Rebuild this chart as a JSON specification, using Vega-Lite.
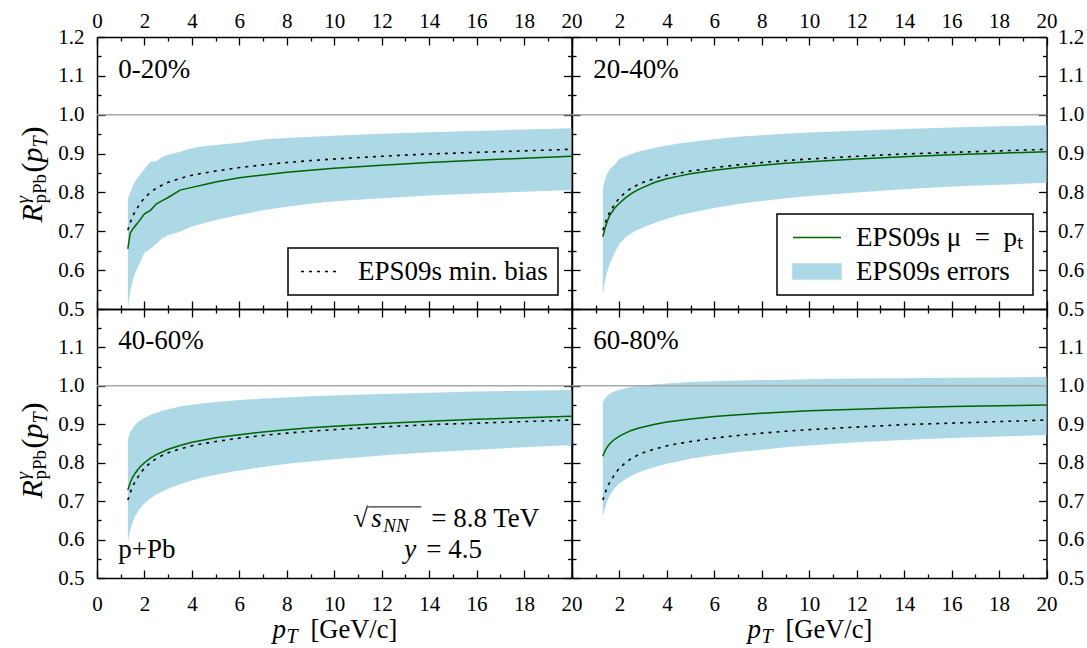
{
  "$schema": "https://vega.github.io/schema/vega-lite/v6.json",
  "background": "white",
  "padding": {"left": 13, "top": 10, "right": 5, "bottom": 5},
  "columns": 2,
  "spacing": 0,
  "bounds": "flush",
  "resolve": {"scale": {"color": "independent"}, "legend": {"color": "independent"}},
  "config": {
    "view": {"stroke": null},
    "axis": {"grid": false, "labelFont": "Liberation Serif, Times New Roman, serif", "labelFontSize": 21, "labelColor": "black", "labelFlush": false, "labelOverlap": false, "labelBound": false, "tickColor": "black", "tickWidth": 1.3, "domainColor": "black", "domainWidth": 1.5, "titleFont": "Liberation Serif, Times New Roman, serif", "titleColor": "black", "titleFontWeight": "normal", "zindex": 1},
    "legend": {"labelFont": "Liberation Serif, Times New Roman, serif", "labelFontSize": 27, "labelColor": "black", "labelLimit": 500, "strokeColor": "black", "fillColor": "white", "padding": 10, "orient": "bottom-right", "offset": 14},
    "text": {"font": "Liberation Serif, Times New Roman, serif", "color": "black"}
  },
  "datasets": {
    "tl": [
      {"pt":1.3,"lo":0.500,"hi":0.783,"mu":0.655,"mb":0.703},
      {"pt":1.4,"lo":0.545,"hi":0.800,"mu":0.695,"mb":0.722},
      {"pt":1.5,"lo":0.572,"hi":0.815,"mu":0.705,"mb":0.738},
      {"pt":1.6,"lo":0.592,"hi":0.828,"mu":0.713,"mb":0.750},
      {"pt":1.8,"lo":0.618,"hi":0.845,"mu":0.728,"mb":0.770},
      {"pt":2.0,"lo":0.645,"hi":0.860,"mu":0.745,"mb":0.786},
      {"pt":2.25,"lo":0.655,"hi":0.879,"mu":0.754,"mb":0.800},
      {"pt":2.5,"lo":0.667,"hi":0.880,"mu":0.770,"mb":0.811},
      {"pt":2.75,"lo":0.682,"hi":0.892,"mu":0.779,"mb":0.819},
      {"pt":3,"lo":0.690,"hi":0.897,"mu":0.787,"mb":0.826},
      {"pt":3.5,"lo":0.699,"hi":0.905,"mu":0.806,"mb":0.836},
      {"pt":4,"lo":0.712,"hi":0.914,"mu":0.813,"mb":0.844},
      {"pt":4.5,"lo":0.721,"hi":0.919,"mu":0.820,"mb":0.850},
      {"pt":5,"lo":0.729,"hi":0.922,"mu":0.827,"mb":0.855},
      {"pt":6,"lo":0.742,"hi":0.928,"mu":0.838,"mb":0.864},
      {"pt":7,"lo":0.754,"hi":0.936,"mu":0.845,"mb":0.871},
      {"pt":8,"lo":0.763,"hi":0.940,"mu":0.852,"mb":0.877},
      {"pt":9,"lo":0.771,"hi":0.943,"mu":0.857,"mb":0.882},
      {"pt":10,"lo":0.777,"hi":0.946,"mu":0.862,"mb":0.886},
      {"pt":12,"lo":0.785,"hi":0.951,"mu":0.870,"mb":0.893},
      {"pt":14,"lo":0.792,"hi":0.955,"mu":0.877,"mb":0.899},
      {"pt":16,"lo":0.797,"hi":0.958,"mu":0.883,"mb":0.903},
      {"pt":18,"lo":0.802,"hi":0.962,"mu":0.888,"mb":0.907},
      {"pt":20,"lo":0.806,"hi":0.965,"mu":0.893,"mb":0.911}
    ],
    "tr": [
      {"pt":1.3,"lo":0.535,"hi":0.810,"mu":0.686,"mb":0.703},
      {"pt":1.4,"lo":0.575,"hi":0.835,"mu":0.710,"mb":0.722},
      {"pt":1.5,"lo":0.600,"hi":0.850,"mu":0.728,"mb":0.738},
      {"pt":1.6,"lo":0.618,"hi":0.860,"mu":0.742,"mb":0.750},
      {"pt":1.8,"lo":0.645,"hi":0.872,"mu":0.760,"mb":0.770},
      {"pt":2.0,"lo":0.668,"hi":0.886,"mu":0.772,"mb":0.786},
      {"pt":2.25,"lo":0.684,"hi":0.893,"mu":0.786,"mb":0.800},
      {"pt":2.5,"lo":0.695,"hi":0.899,"mu":0.797,"mb":0.811},
      {"pt":2.75,"lo":0.703,"hi":0.904,"mu":0.806,"mb":0.819},
      {"pt":3,"lo":0.710,"hi":0.908,"mu":0.813,"mb":0.826},
      {"pt":3.5,"lo":0.722,"hi":0.915,"mu":0.826,"mb":0.836},
      {"pt":4,"lo":0.732,"hi":0.921,"mu":0.835,"mb":0.844},
      {"pt":4.5,"lo":0.741,"hi":0.926,"mu":0.842,"mb":0.850},
      {"pt":5,"lo":0.748,"hi":0.930,"mu":0.848,"mb":0.855},
      {"pt":6,"lo":0.760,"hi":0.937,"mu":0.857,"mb":0.864},
      {"pt":7,"lo":0.770,"hi":0.943,"mu":0.864,"mb":0.871},
      {"pt":8,"lo":0.778,"hi":0.947,"mu":0.870,"mb":0.877},
      {"pt":9,"lo":0.785,"hi":0.951,"mu":0.875,"mb":0.882},
      {"pt":10,"lo":0.791,"hi":0.954,"mu":0.879,"mb":0.886},
      {"pt":12,"lo":0.800,"hi":0.959,"mu":0.886,"mb":0.893},
      {"pt":14,"lo":0.808,"hi":0.963,"mu":0.892,"mb":0.899},
      {"pt":16,"lo":0.815,"hi":0.967,"mu":0.897,"mb":0.903},
      {"pt":18,"lo":0.820,"hi":0.970,"mu":0.901,"mb":0.907},
      {"pt":20,"lo":0.825,"hi":0.973,"mu":0.905,"mb":0.911}
    ],
    "bl": [
      {"pt":1.3,"lo":0.595,"hi":0.860,"mu":0.729,"mb":0.703},
      {"pt":1.4,"lo":0.625,"hi":0.880,"mu":0.748,"mb":0.722},
      {"pt":1.5,"lo":0.645,"hi":0.890,"mu":0.762,"mb":0.738},
      {"pt":1.6,"lo":0.660,"hi":0.898,"mu":0.772,"mb":0.750},
      {"pt":1.8,"lo":0.680,"hi":0.909,"mu":0.788,"mb":0.770},
      {"pt":2.0,"lo":0.694,"hi":0.917,"mu":0.800,"mb":0.786},
      {"pt":2.25,"lo":0.707,"hi":0.924,"mu":0.812,"mb":0.800},
      {"pt":2.5,"lo":0.717,"hi":0.930,"mu":0.821,"mb":0.811},
      {"pt":2.75,"lo":0.725,"hi":0.935,"mu":0.828,"mb":0.819},
      {"pt":3,"lo":0.732,"hi":0.939,"mu":0.835,"mb":0.826},
      {"pt":3.5,"lo":0.744,"hi":0.946,"mu":0.845,"mb":0.836},
      {"pt":4,"lo":0.754,"hi":0.951,"mu":0.853,"mb":0.844},
      {"pt":4.5,"lo":0.762,"hi":0.955,"mu":0.859,"mb":0.850},
      {"pt":5,"lo":0.769,"hi":0.958,"mu":0.865,"mb":0.855},
      {"pt":6,"lo":0.780,"hi":0.963,"mu":0.873,"mb":0.864},
      {"pt":7,"lo":0.789,"hi":0.967,"mu":0.880,"mb":0.871},
      {"pt":8,"lo":0.797,"hi":0.970,"mu":0.886,"mb":0.877},
      {"pt":9,"lo":0.803,"hi":0.973,"mu":0.891,"mb":0.882},
      {"pt":10,"lo":0.809,"hi":0.975,"mu":0.895,"mb":0.886},
      {"pt":12,"lo":0.819,"hi":0.979,"mu":0.902,"mb":0.893},
      {"pt":14,"lo":0.827,"hi":0.982,"mu":0.908,"mb":0.899},
      {"pt":16,"lo":0.834,"hi":0.985,"mu":0.913,"mb":0.903},
      {"pt":18,"lo":0.840,"hi":0.987,"mu":0.917,"mb":0.907},
      {"pt":20,"lo":0.846,"hi":0.989,"mu":0.921,"mb":0.911}
    ],
    "br": [
      {"pt":1.3,"lo":0.660,"hi":0.958,"mu":0.817,"mb":0.703},
      {"pt":1.4,"lo":0.685,"hi":0.968,"mu":0.832,"mb":0.722},
      {"pt":1.5,"lo":0.703,"hi":0.975,"mu":0.842,"mb":0.738},
      {"pt":1.6,"lo":0.716,"hi":0.980,"mu":0.850,"mb":0.750},
      {"pt":1.8,"lo":0.734,"hi":0.986,"mu":0.861,"mb":0.770},
      {"pt":2.0,"lo":0.746,"hi":0.990,"mu":0.869,"mb":0.786},
      {"pt":2.25,"lo":0.757,"hi":0.994,"mu":0.877,"mb":0.800},
      {"pt":2.5,"lo":0.766,"hi":0.997,"mu":0.884,"mb":0.811},
      {"pt":2.75,"lo":0.773,"hi":0.999,"mu":0.889,"mb":0.819},
      {"pt":3,"lo":0.779,"hi":1.001,"mu":0.893,"mb":0.826},
      {"pt":3.5,"lo":0.789,"hi":1.004,"mu":0.900,"mb":0.836},
      {"pt":4,"lo":0.797,"hi":1.006,"mu":0.906,"mb":0.844},
      {"pt":4.5,"lo":0.804,"hi":1.008,"mu":0.910,"mb":0.850},
      {"pt":5,"lo":0.810,"hi":1.010,"mu":0.914,"mb":0.855},
      {"pt":6,"lo":0.820,"hi":1.012,"mu":0.920,"mb":0.864},
      {"pt":7,"lo":0.828,"hi":1.014,"mu":0.925,"mb":0.871},
      {"pt":8,"lo":0.834,"hi":1.015,"mu":0.929,"mb":0.877},
      {"pt":9,"lo":0.840,"hi":1.016,"mu":0.932,"mb":0.882},
      {"pt":10,"lo":0.845,"hi":1.017,"mu":0.935,"mb":0.886},
      {"pt":12,"lo":0.853,"hi":1.019,"mu":0.939,"mb":0.893},
      {"pt":14,"lo":0.859,"hi":1.020,"mu":0.943,"mb":0.899},
      {"pt":16,"lo":0.864,"hi":1.021,"mu":0.946,"mb":0.903},
      {"pt":18,"lo":0.868,"hi":1.022,"mu":0.948,"mb":0.907},
      {"pt":20,"lo":0.872,"hi":1.023,"mu":0.950,"mb":0.911}
    ]
  },
  "concat": [
    {
      "width": 474.5, "height": 272,
      "data": {"name": "tl"},
      "resolve": {"axis": {"x": "independent", "y": "independent"}},
      "layer": [
        {"mark": {"type": "area", "color": "#add8e6"},
         "encoding": {
           "x": {"field": "pt", "type": "quantitative", "scale": {"domain": [0, 20], "nice": false, "zero": false}, "axis": {"orient": "bottom", "values": [0,2,4,6,8,10,12,14,16,18,20], "tickSize": -8, "labels": false, "title": null}},
           "y": {"field": "lo", "type": "quantitative", "scale": {"domain": [0.5, 1.2], "nice": false, "zero": false}, "axis": {"orient": "left", "values": [0.5,0.6,0.7,0.8,0.9,1.0,1.1,1.2], "format": ".1f", "tickSize": -8, "labels": true, "labelPadding": 21, "title": null}},
           "y2": {"field": "hi"}}},
        {"data": {"values": [{}]}, "mark": {"type": "rule", "color": "#a8a8a8", "strokeWidth": 1.5},
         "encoding": {"y": {"datum": 1, "type": "quantitative", "axis": null}}},
        {"mark": {"type": "line", "color": "#006400", "strokeWidth": 1.5},
         "encoding": {
           "x": {"field": "pt", "type": "quantitative", "axis": {"orient": "bottom", "values": [1,3,5,7,9,11,13,15,17,19], "tickSize": -4, "labels": false, "domain": false, "title": null}},
           "y": {"field": "mu", "type": "quantitative", "axis": {"orient": "left", "values": [0.55,0.65,0.75,0.85,0.95,1.05,1.15], "tickSize": -4, "labels": false, "domain": false, "title": null}}}},
        {"mark": {"type": "line", "strokeDash": [3, 5], "strokeWidth": 1.6},
         "encoding": {
           "x": {"field": "pt", "type": "quantitative", "axis": {"orient": "top", "values": [0,2,4,6,8,10,12,14,16,18,20], "tickSize": -8, "labels": true, "labelPadding": 14, "title": null}},
           "y": {"field": "mb", "type": "quantitative", "axis": {"orient": "right", "values": [0.5,0.6,0.7,0.8,0.9,1.0,1.1,1.2], "format": ".1f", "tickSize": -8, "labels": false, "title": null}},
           "color": {"datum": "EPS09s min. bias", "type": "nominal", "scale": {"range": ["black"]},
             "legend": {"title": null, "symbolType": "M-1.6,0H1.6", "symbolSize": 625, "symbolOffset": 9.5, "labelOffset": 23.5, "symbolStrokeColor": "black", "symbolStrokeWidth": 1.6, "symbolDash": [3, 5], "symbolFillColor": "transparent",
               "encode": {"legend": {"update": {"strokeWidth": {"value": 1.5}}}}}}}},
        {"mark": {"type": "point", "opacity": 0},
         "encoding": {
           "x": {"field": "pt", "type": "quantitative", "axis": {"orient": "top", "values": [1,3,5,7,9,11,13,15,17,19], "tickSize": -4, "labels": false, "domain": false, "title": null}},
           "y": {"field": "mb", "type": "quantitative", "axis": {"orient": "right", "values": [0.55,0.65,0.75,0.85,0.95,1.05,1.15], "tickSize": -4, "labels": false, "domain": false, "title": null}}}},
        {"mark": {"type": "point", "opacity": 0},
         "encoding": {"x": {"field": "pt", "type": "quantitative", "axis": null},
           "y": {"field": "mb", "type": "quantitative", "axis": {"orient": "left", "labels": false, "ticks": false, "domain": false, "title": "R", "titleX": -56, "titleY": 185, "titleAngle": 270, "titleAlign": "left", "titleBaseline": "alphabetic", "titleFontSize": 30, "titleFontStyle": "italic"}}}},
        {"mark": {"type": "point", "opacity": 0},
         "encoding": {"x": {"field": "pt", "type": "quantitative", "axis": null},
           "y": {"field": "mb", "type": "quantitative", "axis": {"orient": "left", "labels": false, "ticks": false, "domain": false, "title": "γ", "titleX": -69, "titleY": 166, "titleAngle": 270, "titleAlign": "left", "titleBaseline": "alphabetic", "titleFontSize": 19, "titleFontStyle": "italic"}}}},
        {"mark": {"type": "point", "opacity": 0},
         "encoding": {"x": {"field": "pt", "type": "quantitative", "axis": null},
           "y": {"field": "mb", "type": "quantitative", "axis": {"orient": "left", "labels": false, "ticks": false, "domain": false, "title": "pPb", "titleX": -52, "titleY": 166, "titleAngle": 270, "titleAlign": "left", "titleBaseline": "alphabetic", "titleFontSize": 19}}}},
        {"mark": {"type": "point", "opacity": 0},
         "encoding": {"x": {"field": "pt", "type": "quantitative", "axis": null},
           "y": {"field": "mb", "type": "quantitative", "axis": {"orient": "left", "labels": false, "ticks": false, "domain": false, "title": "(", "titleX": -56, "titleY": 135, "titleAngle": 270, "titleAlign": "left", "titleBaseline": "alphabetic", "titleFontSize": 30}}}},
        {"mark": {"type": "point", "opacity": 0},
         "encoding": {"x": {"field": "pt", "type": "quantitative", "axis": null},
           "y": {"field": "mb", "type": "quantitative", "axis": {"orient": "left", "labels": false, "ticks": false, "domain": false, "title": "p", "titleX": -56, "titleY": 125, "titleAngle": 270, "titleAlign": "left", "titleBaseline": "alphabetic", "titleFontSize": 30, "titleFontStyle": "italic"}}}},
        {"mark": {"type": "point", "opacity": 0},
         "encoding": {"x": {"field": "pt", "type": "quantitative", "axis": null},
           "y": {"field": "mb", "type": "quantitative", "axis": {"orient": "left", "labels": false, "ticks": false, "domain": false, "title": "T", "titleX": -51, "titleY": 110, "titleAngle": 270, "titleAlign": "left", "titleBaseline": "alphabetic", "titleFontSize": 20, "titleFontStyle": "italic"}}}},
        {"mark": {"type": "point", "opacity": 0},
         "encoding": {"x": {"field": "pt", "type": "quantitative", "axis": null},
           "y": {"field": "mb", "type": "quantitative", "axis": {"orient": "left", "labels": false, "ticks": false, "domain": false, "title": ")", "titleX": -56, "titleY": 99, "titleAngle": 270, "titleAlign": "left", "titleBaseline": "alphabetic", "titleFontSize": 30}}}},
        {"data": {"values": [{}]}, "mark": {"type": "text", "text": "0-20%", "fontSize": 27, "align": "left", "baseline": "alphabetic"},
         "encoding": {"x": {"datum": 0.9, "type": "quantitative", "axis": null}, "y": {"datum": 1.095, "type": "quantitative", "axis": null}}}
      ]
    },
    {
      "width": 474.5, "height": 272,
      "data": {"name": "tr"},
      "resolve": {"axis": {"x": "independent", "y": "independent"}},
      "layer": [
        {"mark": {"type": "area"},
         "encoding": {
           "x": {"field": "pt", "type": "quantitative", "scale": {"domain": [0, 20], "nice": false, "zero": false}, "axis": {"orient": "bottom", "values": [2,4,6,8,10,12,14,16,18,20], "tickSize": -8, "labels": false, "title": null}},
           "y": {"field": "lo", "type": "quantitative", "scale": {"domain": [0.5, 1.2], "nice": false, "zero": false}, "axis": {"orient": "left", "values": [0.5,0.6,0.7,0.8,0.9,1.0,1.1,1.2], "format": ".1f", "tickSize": -8, "labels": false, "title": null}},
           "y2": {"field": "hi"},
           "color": {"datum": "EPS09s errors", "type": "nominal", "scale": {"domain": ["EPS09s μ\u2002=\u2002pₜ", "EPS09s errors"], "range": ["#006400", "#add8e6"]},
             "legend": {"title": null, "symbolSize": 625, "symbolOffset": 16.5, "labelOffset": 25.5, "rowPadding": 6, "labelExpr": "datum.label + '\u00a0'",
               "encode": {"legend": {"update": {"strokeWidth": {"value": 1.5}}},
                 "symbols": {"update": {
                   "shape": {"signal": "datum.value === 'EPS09s errors' ? 'M-1.92,-0.6H1.92V0.6H-1.92Z' : 'M-1.92,0H1.92'"},
                   "fill": {"signal": "datum.value === 'EPS09s errors' ? '#add8e6' : 'transparent'"},
                   "stroke": {"signal": "datum.value === 'EPS09s errors' ? 'transparent' : '#006400'"},
                   "strokeWidth": {"value": 1.5}, "opacity": {"value": 1}}}}}}}},
        {"data": {"values": [{}]}, "mark": {"type": "rule", "color": "#a8a8a8", "strokeWidth": 1.5},
         "encoding": {"y": {"datum": 1, "type": "quantitative", "axis": null}}},
        {"mark": {"type": "line", "strokeWidth": 1.5},
         "encoding": {
           "x": {"field": "pt", "type": "quantitative", "axis": {"orient": "bottom", "values": [1,3,5,7,9,11,13,15,17,19], "tickSize": -4, "labels": false, "domain": false, "title": null}},
           "y": {"field": "mu", "type": "quantitative", "axis": {"orient": "left", "values": [0.55,0.65,0.75,0.85,0.95,1.05,1.15], "tickSize": -4, "labels": false, "domain": false, "title": null}},
           "color": {"datum": "EPS09s μ\u2002=\u2002pₜ", "type": "nominal"}}},
        {"mark": {"type": "line", "color": "black", "strokeDash": [3, 5], "strokeWidth": 1.6},
         "encoding": {
           "x": {"field": "pt", "type": "quantitative", "axis": {"orient": "top", "values": [2,4,6,8,10,12,14,16,18,20], "tickSize": -8, "labels": true, "labelPadding": 14, "title": null}},
           "y": {"field": "mb", "type": "quantitative", "axis": {"orient": "right", "values": [0.5,0.6,0.7,0.8,0.9,1.0,1.1,1.2], "format": ".1f", "tickSize": -8, "labels": true, "labelPadding": 19, "title": null}}}},
        {"mark": {"type": "point", "opacity": 0},
         "encoding": {
           "x": {"field": "pt", "type": "quantitative", "axis": {"orient": "top", "values": [1,3,5,7,9,11,13,15,17,19], "tickSize": -4, "labels": false, "domain": false, "title": null}},
           "y": {"field": "mb", "type": "quantitative", "axis": {"orient": "right", "values": [0.55,0.65,0.75,0.85,0.95,1.05,1.15], "tickSize": -4, "labels": false, "domain": false, "title": null}}}},
        {"data": {"values": [{}]}, "mark": {"type": "text", "text": "20-40%", "fontSize": 27, "align": "left", "baseline": "alphabetic"},
         "encoding": {"x": {"datum": 0.9, "type": "quantitative", "axis": null}, "y": {"datum": 1.095, "type": "quantitative", "axis": null}}}
      ]
    },
    {
      "width": 474.5, "height": 269,
      "data": {"name": "bl"},
      "resolve": {"axis": {"x": "independent", "y": "independent"}},
      "layer": [
        {"mark": {"type": "area", "color": "#add8e6"},
         "encoding": {
           "x": {"field": "pt", "type": "quantitative", "scale": {"domain": [0, 20], "nice": false, "zero": false}, "axis": {"orient": "bottom", "values": [0,2,4,6,8,10,12,14,16,18,20], "tickSize": -8, "labels": true, "labelPadding": 23, "title": null}},
           "y": {"field": "lo", "type": "quantitative", "scale": {"domain": [0.5, 1.2], "nice": false, "zero": false}, "axis": {"orient": "left", "values": [0.5,0.6,0.7,0.8,0.9,1.0,1.1], "format": ".1f", "tickSize": -8, "labels": true, "labelPadding": 21, "title": null}},
           "y2": {"field": "hi"}}},
        {"data": {"values": [{}]}, "mark": {"type": "rule", "color": "#a8a8a8", "strokeWidth": 1.5},
         "encoding": {"y": {"datum": 1, "type": "quantitative", "axis": null}}},
        {"mark": {"type": "line", "color": "#006400", "strokeWidth": 1.5},
         "encoding": {
           "x": {"field": "pt", "type": "quantitative", "axis": {"orient": "bottom", "values": [1,3,5,7,9,11,13,15,17,19], "tickSize": -4, "labels": false, "domain": false, "title": null}},
           "y": {"field": "mu", "type": "quantitative", "axis": {"orient": "left", "values": [0.55,0.65,0.75,0.85,0.95,1.05,1.15], "tickSize": -4, "labels": false, "domain": false, "title": null}}}},
        {"mark": {"type": "line", "color": "black", "strokeDash": [3, 5], "strokeWidth": 1.6},
         "encoding": {
           "x": {"field": "pt", "type": "quantitative", "axis": {"orient": "top", "values": [0,2,4,6,8,10,12,14,16,18,20], "tickSize": -8, "labels": false, "title": null}},
           "y": {"field": "mb", "type": "quantitative", "axis": {"orient": "right", "values": [0.5,0.6,0.7,0.8,0.9,1.0,1.1], "format": ".1f", "tickSize": -8, "labels": false, "title": null}}}},
        {"mark": {"type": "point", "opacity": 0},
         "encoding": {
           "x": {"field": "pt", "type": "quantitative", "axis": {"orient": "top", "values": [1,3,5,7,9,11,13,15,17,19], "tickSize": -4, "labels": false, "domain": false, "title": null}},
           "y": {"field": "mb", "type": "quantitative", "axis": {"orient": "right", "values": [0.55,0.65,0.75,0.85,0.95,1.05,1.15], "tickSize": -4, "labels": false, "domain": false, "title": null}}}},
        {"mark": {"type": "point", "opacity": 0},
         "encoding": {
           "x": {"field": "pt", "type": "quantitative", "axis": {"orient": "bottom", "labels": false, "ticks": false, "domain": false, "title": "p", "titleX": 175, "titleY": 59, "titleAngle": 0, "titleAlign": "left", "titleBaseline": "alphabetic", "titleFontSize": 27, "titleFontStyle": "italic"}},
           "y": {"field": "mb", "type": "quantitative", "axis": {"orient": "left", "labels": false, "ticks": false, "domain": false, "title": "R", "titleX": -56, "titleY": 189, "titleAngle": 270, "titleAlign": "left", "titleBaseline": "alphabetic", "titleFontSize": 30, "titleFontStyle": "italic"}}}},
        {"mark": {"type": "point", "opacity": 0},
         "encoding": {
           "x": {"field": "pt", "type": "quantitative", "axis": {"orient": "bottom", "labels": false, "ticks": false, "domain": false, "title": "T", "titleX": 189, "titleY": 64, "titleAngle": 0, "titleAlign": "left", "titleBaseline": "alphabetic", "titleFontSize": 20, "titleFontStyle": "italic"}},
           "y": {"field": "mb", "type": "quantitative", "axis": {"orient": "left", "labels": false, "ticks": false, "domain": false, "title": "γ", "titleX": -69, "titleY": 170, "titleAngle": 270, "titleAlign": "left", "titleBaseline": "alphabetic", "titleFontSize": 19, "titleFontStyle": "italic"}}}},
        {"mark": {"type": "point", "opacity": 0},
         "encoding": {
           "x": {"field": "pt", "type": "quantitative", "axis": {"orient": "bottom", "labels": false, "ticks": false, "domain": false, "title": "[GeV/c]", "titleX": 213, "titleY": 59, "titleAngle": 0, "titleAlign": "left", "titleBaseline": "alphabetic", "titleFontSize": 26.5}},
           "y": {"field": "mb", "type": "quantitative", "axis": {"orient": "left", "labels": false, "ticks": false, "domain": false, "title": "pPb", "titleX": -52, "titleY": 170, "titleAngle": 270, "titleAlign": "left", "titleBaseline": "alphabetic", "titleFontSize": 19}}}},
        {"mark": {"type": "point", "opacity": 0},
         "encoding": {"x": {"field": "pt", "type": "quantitative", "axis": null},
           "y": {"field": "mb", "type": "quantitative", "axis": {"orient": "left", "labels": false, "ticks": false, "domain": false, "title": "(", "titleX": -56, "titleY": 139, "titleAngle": 270, "titleAlign": "left", "titleBaseline": "alphabetic", "titleFontSize": 30}}}},
        {"mark": {"type": "point", "opacity": 0},
         "encoding": {"x": {"field": "pt", "type": "quantitative", "axis": null},
           "y": {"field": "mb", "type": "quantitative", "axis": {"orient": "left", "labels": false, "ticks": false, "domain": false, "title": "p", "titleX": -56, "titleY": 129, "titleAngle": 270, "titleAlign": "left", "titleBaseline": "alphabetic", "titleFontSize": 30, "titleFontStyle": "italic"}}}},
        {"mark": {"type": "point", "opacity": 0},
         "encoding": {"x": {"field": "pt", "type": "quantitative", "axis": null},
           "y": {"field": "mb", "type": "quantitative", "axis": {"orient": "left", "labels": false, "ticks": false, "domain": false, "title": "T", "titleX": -51, "titleY": 114, "titleAngle": 270, "titleAlign": "left", "titleBaseline": "alphabetic", "titleFontSize": 20, "titleFontStyle": "italic"}}}},
        {"mark": {"type": "point", "opacity": 0},
         "encoding": {"x": {"field": "pt", "type": "quantitative", "axis": null},
           "y": {"field": "mb", "type": "quantitative", "axis": {"orient": "left", "labels": false, "ticks": false, "domain": false, "title": ")", "titleX": -56, "titleY": 103, "titleAngle": 270, "titleAlign": "left", "titleBaseline": "alphabetic", "titleFontSize": 30}}}},
        {"data": {"values": [{}]}, "mark": {"type": "text", "text": "40-60%", "fontSize": 27, "align": "left", "baseline": "alphabetic"},
         "encoding": {"x": {"datum": 0.9, "type": "quantitative", "axis": null}, "y": {"datum": 1.097, "type": "quantitative", "axis": null}}},
        {"data": {"values": [{}]}, "mark": {"type": "text", "text": "p+Pb", "fontSize": 27, "align": "left", "baseline": "alphabetic"},
         "encoding": {"x": {"datum": 0.9, "type": "quantitative", "axis": null}, "y": {"datum": 0.552, "type": "quantitative", "axis": null}}},
        {"data": {"values": [{}]}, "mark": {"type": "text", "text": "√", "fontSize": 27, "align": "left", "baseline": "alphabetic"},
         "encoding": {"x": {"datum": 10.8, "type": "quantitative", "axis": null}, "y": {"datum": 0.633, "type": "quantitative", "axis": null}}},
        {"data": {"values": [{}]}, "mark": {"type": "text", "text": "s", "fontSize": 27, "fontStyle": "italic", "align": "left", "baseline": "alphabetic", "dx": 18},
         "encoding": {"x": {"datum": 10.8, "type": "quantitative", "axis": null}, "y": {"datum": 0.633, "type": "quantitative", "axis": null}}},
        {"data": {"values": [{}]}, "mark": {"type": "text", "text": "NN", "fontSize": 19, "fontStyle": "italic", "align": "left", "baseline": "alphabetic", "dx": 30, "dy": 5},
         "encoding": {"x": {"datum": 10.8, "type": "quantitative", "axis": null}, "y": {"datum": 0.633, "type": "quantitative", "axis": null}}},
        {"data": {"values": [{}]}, "mark": {"type": "text", "text": "= 8.8 TeV", "fontSize": 27, "align": "left", "baseline": "alphabetic", "dx": 78},
         "encoding": {"x": {"datum": 10.8, "type": "quantitative", "axis": null}, "y": {"datum": 0.633, "type": "quantitative", "axis": null}}},
        {"data": {"values": [{}]}, "mark": {"type": "rule", "color": "black", "strokeWidth": 1},
         "encoding": {"x": {"datum": 11.43, "type": "quantitative", "axis": null}, "x2": {"datum": 13.67}, "y": {"datum": 0.685, "type": "quantitative", "axis": null}}},
        {"data": {"values": [{}]}, "mark": {"type": "text", "text": "y", "fontSize": 27, "fontStyle": "italic", "align": "left", "baseline": "alphabetic"},
         "encoding": {"x": {"datum": 12.95, "type": "quantitative", "axis": null}, "y": {"datum": 0.552, "type": "quantitative", "axis": null}}},
        {"data": {"values": [{}]}, "mark": {"type": "text", "text": "= 4.5", "fontSize": 27, "align": "left", "baseline": "alphabetic", "dx": 22},
         "encoding": {"x": {"datum": 12.95, "type": "quantitative", "axis": null}, "y": {"datum": 0.552, "type": "quantitative", "axis": null}}}
      ]
    },
    {
      "width": 474.5, "height": 269,
      "data": {"name": "br"},
      "resolve": {"axis": {"x": "independent", "y": "independent"}},
      "layer": [
        {"mark": {"type": "area", "color": "#add8e6"},
         "encoding": {
           "x": {"field": "pt", "type": "quantitative", "scale": {"domain": [0, 20], "nice": false, "zero": false}, "axis": {"orient": "bottom", "values": [2,4,6,8,10,12,14,16,18,20], "tickSize": -8, "labels": true, "labelPadding": 23, "title": null}},
           "y": {"field": "lo", "type": "quantitative", "scale": {"domain": [0.5, 1.2], "nice": false, "zero": false}, "axis": {"orient": "left", "values": [0.5,0.6,0.7,0.8,0.9,1.0,1.1], "format": ".1f", "tickSize": -8, "labels": false, "title": null}},
           "y2": {"field": "hi"}}},
        {"data": {"values": [{}]}, "mark": {"type": "rule", "color": "#a8a8a8", "strokeWidth": 1.5},
         "encoding": {"y": {"datum": 1, "type": "quantitative", "axis": null}}},
        {"mark": {"type": "line", "color": "#006400", "strokeWidth": 1.5},
         "encoding": {
           "x": {"field": "pt", "type": "quantitative", "axis": {"orient": "bottom", "values": [1,3,5,7,9,11,13,15,17,19], "tickSize": -4, "labels": false, "domain": false, "title": null}},
           "y": {"field": "mu", "type": "quantitative", "axis": {"orient": "left", "values": [0.55,0.65,0.75,0.85,0.95,1.05,1.15], "tickSize": -4, "labels": false, "domain": false, "title": null}}}},
        {"mark": {"type": "line", "color": "black", "strokeDash": [3, 5], "strokeWidth": 1.6},
         "encoding": {
           "x": {"field": "pt", "type": "quantitative", "axis": {"orient": "top", "values": [2,4,6,8,10,12,14,16,18,20], "tickSize": -8, "labels": false, "title": null}},
           "y": {"field": "mb", "type": "quantitative", "axis": {"orient": "right", "values": [0.5,0.6,0.7,0.8,0.9,1.0,1.1], "format": ".1f", "tickSize": -8, "labels": true, "labelPadding": 19, "title": null}}}},
        {"mark": {"type": "point", "opacity": 0},
         "encoding": {
           "x": {"field": "pt", "type": "quantitative", "axis": {"orient": "top", "values": [1,3,5,7,9,11,13,15,17,19], "tickSize": -4, "labels": false, "domain": false, "title": null}},
           "y": {"field": "mb", "type": "quantitative", "axis": {"orient": "right", "values": [0.55,0.65,0.75,0.85,0.95,1.05,1.15], "tickSize": -4, "labels": false, "domain": false, "title": null}}}},
        {"mark": {"type": "point", "opacity": 0},
         "encoding": {
           "x": {"field": "pt", "type": "quantitative", "axis": {"orient": "bottom", "labels": false, "ticks": false, "domain": false, "title": "p", "titleX": 175, "titleY": 59, "titleAngle": 0, "titleAlign": "left", "titleBaseline": "alphabetic", "titleFontSize": 27, "titleFontStyle": "italic"}},
           "y": {"field": "mb", "type": "quantitative", "axis": null}}},
        {"mark": {"type": "point", "opacity": 0},
         "encoding": {
           "x": {"field": "pt", "type": "quantitative", "axis": {"orient": "bottom", "labels": false, "ticks": false, "domain": false, "title": "T", "titleX": 189, "titleY": 64, "titleAngle": 0, "titleAlign": "left", "titleBaseline": "alphabetic", "titleFontSize": 20, "titleFontStyle": "italic"}},
           "y": {"field": "mb", "type": "quantitative", "axis": null}}},
        {"mark": {"type": "point", "opacity": 0},
         "encoding": {
           "x": {"field": "pt", "type": "quantitative", "axis": {"orient": "bottom", "labels": false, "ticks": false, "domain": false, "title": "[GeV/c]", "titleX": 213, "titleY": 59, "titleAngle": 0, "titleAlign": "left", "titleBaseline": "alphabetic", "titleFontSize": 26.5}},
           "y": {"field": "mb", "type": "quantitative", "axis": null}}},
        {"data": {"values": [{}]}, "mark": {"type": "text", "text": "60-80%", "fontSize": 27, "align": "left", "baseline": "alphabetic"},
         "encoding": {"x": {"datum": 0.9, "type": "quantitative", "axis": null}, "y": {"datum": 1.097, "type": "quantitative", "axis": null}}}
      ]
    }
  ]
}
